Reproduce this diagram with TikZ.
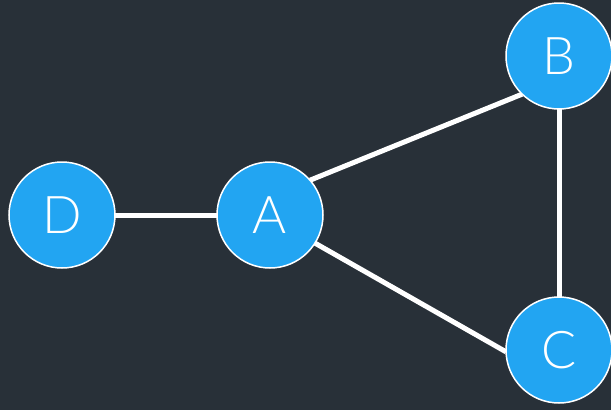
\documentclass[tikz,border=0pt]{standalone}
\usepackage{fontspec}
\usetikzlibrary{calc}
\setmainfont{Lato Light}
\definecolor{bg}{HTML}{283038}
\definecolor{nodeblue}{HTML}{22A5F2}
\tikzset{
  vertex/.style={circle, fill=nodeblue, draw=white, line width=1.5pt,
    minimum size=106pt, inner sep=0pt, text=white,
    font=\fontsize{52}{52}\selectfont},
  edge/.style={draw=white, line width=5pt}
}
\begin{document}
\begin{tikzpicture}[x=1pt, y=-1pt]
  \fill[bg] (0,0) rectangle (611,410);
  \useasboundingbox (0,0) rectangle (611,410);
  % edges first, so the circles sit on top of their ends
  \coordinate (Dc) at (62,215);
  \coordinate (Ac) at (270,215);
  \coordinate (Bc) at (559,56);
  \coordinate (Cc) at (559,350);
  \coordinate (ab1) at ($(Ac)+(41:53pt)$);
  \coordinate (ab2) at ($(Bc)+(226:53pt)$);
  \coordinate (ac1) at ($(Ac)+(-32:53pt)$);
  \coordinate (ac2) at ($(Cc)+(182:53pt)$);
  \draw[edge] (Dc) -- (Ac);
  \draw[edge] (ab1) -- (ab2);
  \draw[edge] (ac1) -- (ac2);
  \draw[edge] (Bc) -- (Cc);
  \node[vertex] (D) at (Dc) {D};
  \node[vertex] (A) at (Ac) {A};
  \node[vertex] (B) at (Bc) {B};
  \node[vertex] (C) at (Cc) {C};
\end{tikzpicture}
\end{document}
